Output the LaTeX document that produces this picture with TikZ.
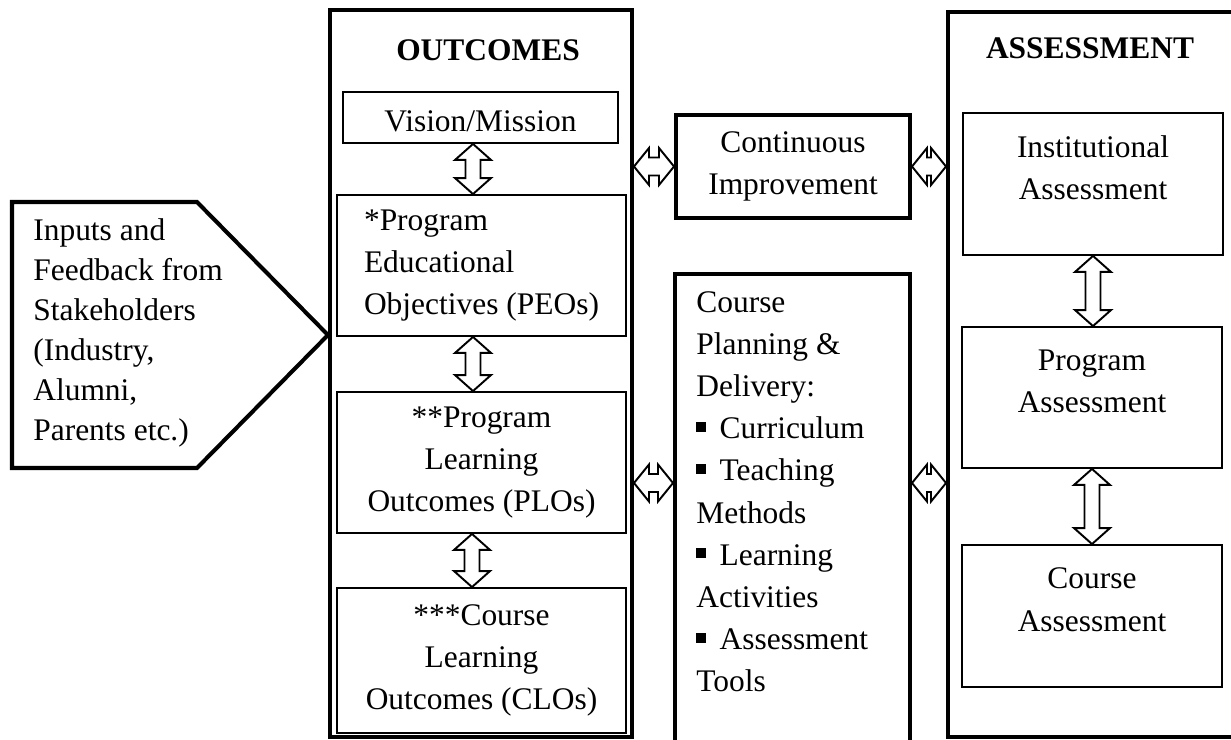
\documentclass[tikz,border=0pt]{standalone}
\usepackage{fontspec}
\setmainfont{Liberation Serif}
\usetikzlibrary{calc, positioning}

% small square bullet as in the list
\newcommand{\sqb}{\raisebox{0.22em}{\rule{0.32em}{0.32em}}\hspace{0.42em}}

% hollow double block arrows between two points
\newcommand{\vdbl}[2]{%
  \draw[dbl] let \p1=#1, \p2=#2 in
    (\x1,\y1) -- (\x1+0.36cm,\y1-0.32cm) -- (\x1+0.15cm,\y1-0.32cm)
    -- (\x1+0.15cm,\y2+0.32cm) -- (\x1+0.36cm,\y2+0.32cm) -- (\x1,\y2)
    -- (\x1-0.36cm,\y2+0.32cm) -- (\x1-0.15cm,\y2+0.32cm)
    -- (\x1-0.15cm,\y1-0.32cm) -- (\x1-0.36cm,\y1-0.32cm) -- cycle;}
\newcommand{\hdbl}[2]{%
  \draw[dbl] let \p1=#1, \p2=#2 in
    (\x1,\y1) -- (\x1+0.3cm,\y1+0.37cm) -- (\x1+0.3cm,\y1+0.18cm)
    -- (\x2-0.3cm,\y1+0.18cm) -- (\x2-0.3cm,\y1+0.37cm) -- (\x2,\y1)
    -- (\x2-0.3cm,\y1-0.37cm) -- (\x2-0.3cm,\y1-0.18cm)
    -- (\x1+0.3cm,\y1-0.18cm) -- (\x1+0.3cm,\y1-0.37cm) -- cycle;}

\begin{document}
\begin{tikzpicture}[x=0.02cm, y=-0.02cm,
  txt/.style={font=\fontsize{17.9}{24}\selectfont},
  title/.style={font=\fontsize{17.9}{24}\selectfont\bfseries, inner sep=0pt},
  frame/.style={draw, line width=2.3pt, inner sep=0pt},
  ibox/.style={draw, line width=1.1pt, txt, align=center, inner sep=0pt},
  dbl/.style={draw, line width=1.1pt, fill=white, line join=miter}
]
  \useasboundingbox (0,0) rectangle (1231,740);
  \clip (0,0) rectangle (1231,740);

  % Inputs from stakeholders
  \draw[line width=2.3pt, line join=miter] (12,202) -- (197,202) -- (328,335) -- (197,468) -- (12,468) -- cycle;
  \node[font=\fontsize{17.9}{22.8}\selectfont, align=left, anchor=west, inner sep=0pt] (inputs) at (33,333)
    {Inputs and\\Feedback from\\Stakeholders\\(Industry,\\Alumni,\\Parents etc.)};

  % Outcomes column
  \node[frame, minimum width=6.04cm, minimum height=14.54cm] (outc) at (481,373.5) {};
  \node[title] (outctitle) at (488,50) {OUTCOMES};
  \node[ibox, minimum width=5.5cm, minimum height=1.02cm, text height=0.55cm, text depth=0cm] (vision) at (480.5,117.5) {Vision/Mission};
  \node[ibox, align=left, minimum width=5.78cm, minimum height=2.82cm] (peo) at (481.5,265.5)
    {*Program\\Educational\\Objectives (PEOs)};
  \node[ibox, minimum width=5.78cm, minimum height=2.82cm] (plo) at (481.5,462.5)
    {**Program\\Learning\\Outcomes (PLOs)};
  \node[ibox, minimum width=5.78cm, minimum height=2.9cm] (clo) at (481.5,660.5)
    {***Course\\Learning\\Outcomes (CLOs)};

  \vdbl{([xshift=-0.15cm]vision.south)}{(peo.north)}
  \vdbl{([xshift=-0.17cm]peo.south)}{(plo.north)}
  \vdbl{([xshift=-0.19cm]plo.south)}{(clo.north)}

  % Middle column
  \node[frame, txt, align=center, minimum width=4.68cm, minimum height=2.06cm] (ci) at (793,166.5)
    {Continuous\\Improvement};
  \node[frame, minimum width=4.7cm, minimum height=9.72cm] (plan) at (792.5,517) {};
  \node[txt, align=left, anchor=north west, inner sep=0pt] (plantext) at ([xshift=0.46cm, yshift=-0.38cm]plan.north west)
    {Course\\Planning \&\\Delivery:\\\sqb Curriculum\\\sqb Teaching\\Methods\\\sqb Learning\\Activities\\\sqb Assessment\\Tools};

  % Assessment column
  \node[frame, minimum width=5.84cm, minimum height=14.5cm] (asmt) at (1094,374.5) {};
  \node[title] (asmttitle) at (1090,48) {ASSESSMENT};
  \node[ibox, minimum width=5.2cm, minimum height=2.84cm, text depth=0.66cm] (inst) at (1093,184)
    {Institutional\\Assessment};
  \node[ibox, minimum width=5.2cm, minimum height=2.82cm, text depth=0.66cm] (prog) at (1092,397.5)
    {Program\\Assessment};
  \node[ibox, minimum width=5.2cm, minimum height=2.84cm, text depth=0.66cm] (crs) at (1092,616)
    {Course\\Assessment};

  \vdbl{(inst.south)}{(prog.north)}
  \vdbl{(prog.south)}{(crs.north)}

  % Links between columns
  \coordinate (midrow) at (0,483);
  \hdbl{(outc.east |- ci.west)}{(ci.west)}
  \hdbl{(ci.east)}{(asmt.west |- ci.east)}
  \hdbl{(outc.east |- midrow)}{(plan.west |- midrow)}
  \hdbl{(plan.east |- midrow)}{(asmt.west |- midrow)}
\end{tikzpicture}
\end{document}
